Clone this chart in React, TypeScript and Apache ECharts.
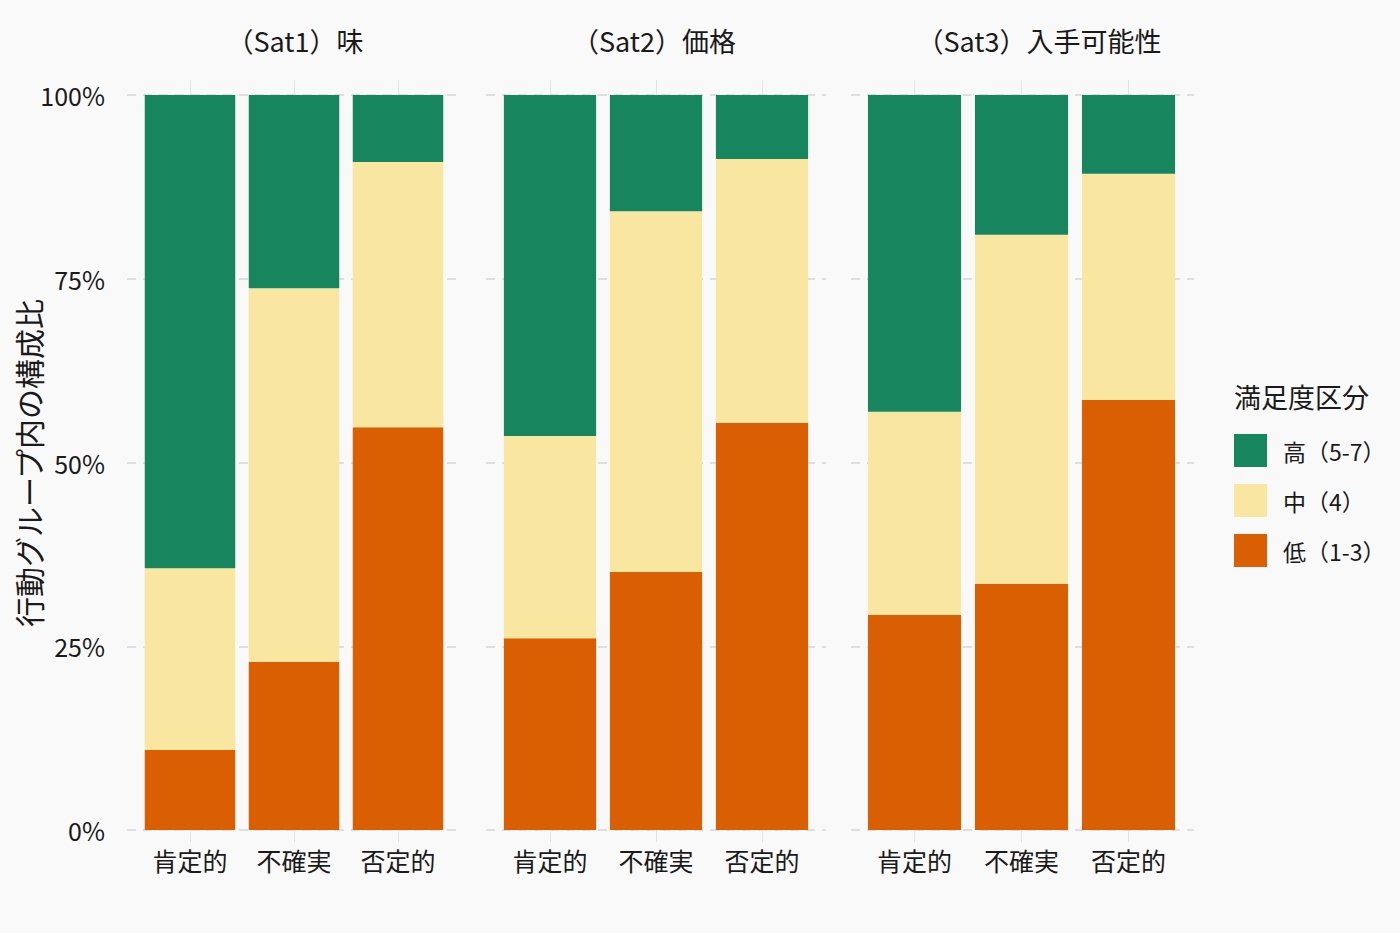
import React, { useEffect, useRef } from "react";
import * as echarts from "echarts";

const categories = ["肯定的", "不確実", "否定的"];
const facetTitles = ["（Sat1）味", "（Sat2）価格", "（Sat3）入手可能性"];
const seriesNames = ["低（1-3）", "中（4）", "高（5-7）"];
const legendOrder = ["高（5-7）", "中（4）", "低（1-3）"];
const yTicks = [0, 0.25, 0.5, 0.75, 1];

// shares per facet: [肯定的, 不確実, 否定的]
const lowSat1 = [0.109, 0.229, 0.548];
const midSat1 = [0.247, 0.508, 0.361];
const highSat1 = [0.644, 0.263, 0.091];
const lowSat2 = [0.261, 0.351, 0.554];
const midSat2 = [0.275, 0.491, 0.359];
const highSat2 = [0.464, 0.158, 0.087];
const lowSat3 = [0.293, 0.335, 0.585];
const midSat3 = [0.276, 0.475, 0.308];
const highSat3 = [0.431, 0.19, 0.107];

const facetData = [
  [lowSat1, midSat1, highSat1],
  [lowSat2, midSat2, highSat2],
  [lowSat3, midSat3, highSat3],
];

const COLORS = ["#d95f02", "#f9e6a1", "#17865f"];
const FONT = "'Noto Sans CJK JP', 'Noto Sans', sans-serif";
const TEXT = "#1a1a1a";

export default function App() {
  const ref = useRef<HTMLDivElement>(null);
  useEffect(() => {
    if (!ref.current) return;
    const chart = echarts.init(ref.current, undefined, { renderer: "svg" });

    const panelLeft = [127, 486, 851];
    const panelWidth = [333, 340, 343];
    const barLeft = [138, 497, 861];
    const barWidth = [312, 318, 321];
    const titleCenter = [295, 654, 1039];
    const top = 95;
    const bottom = 103;

    const grids: any[] = [];
    for (let i = 0; i < 3; i++) {
      grids.push({ left: barLeft[i], width: barWidth[i], top, bottom });
    }
    for (let i = 0; i < 3; i++) {
      grids.push({ left: panelLeft[i], width: panelWidth[i], top, bottom });
    }

    const xAxes: any[] = [];
    for (let i = 0; i < 3; i++) {
      xAxes.push({
        type: "category",
        gridIndex: i,
        data: categories,
        position: "bottom",
        axisLine: { show: false },
        axisTick: { show: true, alignWithLabel: true, length: 12, lineStyle: { color: "#e2e2e2" } },
        axisLabel: { fontSize: 25, color: TEXT, margin: 17, fontFamily: FONT },
        splitLine: { show: false },
      });
    }
    for (let i = 0; i < 3; i++) {
      xAxes.push({
        type: "category",
        gridIndex: i,
        data: categories,
        position: "top",
        axisLine: { show: false },
        axisTick: { show: true, alignWithLabel: true, length: 15, lineStyle: { color: "#e2e2e2" } },
        axisLabel: { show: false },
        splitLine: { show: false },
      });
    }
    for (let i = 0; i < 3; i++) {
      xAxes.push({ type: "value", gridIndex: 3 + i, min: 0, max: 1, show: false });
    }

    const yAxes: any[] = [];
    for (let i = 0; i < 3; i++) {
      yAxes.push({ type: "value", gridIndex: i, min: 0, max: 1, show: false });
    }
    for (let i = 0; i < 3; i++) {
      yAxes.push({
        type: "value",
        gridIndex: 3 + i,
        min: yTicks[0],
        max: yTicks[yTicks.length - 1],
        interval: 0.25,
        axisLine: { show: false },
        axisTick: { show: false },
        axisLabel: {
          show: i === 0,
          fontSize: 25,
          color: TEXT,
          margin: 22,
          fontFamily: FONT,
          formatter: (v: number) => `${Math.round(v * 100)}%`,
        },
        splitLine: { show: true, lineStyle: { color: "#d4d4da", type: [9, 7], width: 1.5 } },
      });
    }

    const series: any[] = [];
    facetData.forEach((groups, i) => {
      groups.forEach((vals, k) => {
        series.push({
          type: "bar",
          name: seriesNames[k],
          xAxisIndex: i,
          yAxisIndex: i,
          stack: "f" + i,
          data: vals,
          barWidth: "87%",
          itemStyle: { color: COLORS[k] },
          emphasis: { disabled: true },
        });
      });
    });

    const graphics: any[] = facetTitles.map((t, i) => ({
      type: "text",
      x: titleCenter[i],
      y: 40,
      style: {
        text: t,
        fontSize: 27,
        fontFamily: FONT,
        fill: TEXT,
        textAlign: "center",
        textVerticalAlign: "middle",
      },
    }));
    graphics.push({
      type: "text",
      x: 28,
      y: 463,
      rotation: Math.PI / 2,
      style: {
        text: "行動グループ内の構成比",
        fontSize: 30,
        fontFamily: FONT,
        fill: TEXT,
        textAlign: "center",
        textVerticalAlign: "middle",
      },
    });
    graphics.push({
      type: "text",
      x: 1234,
      y: 396,
      style: {
        text: "満足度区分",
        fontSize: 27,
        fontFamily: FONT,
        fill: TEXT,
        textAlign: "left",
        textVerticalAlign: "middle",
      },
    });

    chart.setOption({
      animation: false,
      backgroundColor: "#f9f9f9",
      grid: grids,
      xAxis: xAxes,
      yAxis: yAxes,
      series,
      legend: {
        data: legendOrder,
        orient: "vertical",
        left: 1234,
        top: 434,
        padding: 0,
        icon: "rect",
        itemWidth: 33,
        itemHeight: 33,
        itemGap: 17,
        selectedMode: false,
        formatter: (name: string) => `{a|${name}}`,
        textStyle: {
          fontSize: 23,
          color: TEXT,
          fontFamily: FONT,
          rich: { a: { fontSize: 23, color: TEXT, fontFamily: FONT, padding: [0, 0, 0, 11] } },
        },
      },
      graphic: graphics,
    });
    return () => chart.dispose();
  }, []);

  return (
    <div
      ref={ref}
      style={{ position: "absolute", left: 0, top: 0, width: 1400, height: 933, background: "#f9f9f9" }}
    />
  );
}
